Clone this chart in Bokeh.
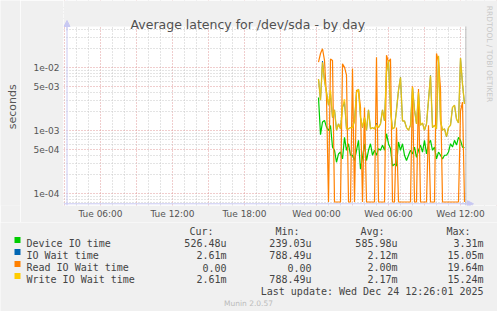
import numpy as np
import pandas as pd
from bokeh.plotting import figure
from bokeh.layouts import column, row
from bokeh.models import (Range1d, FixedTicker, CustomJSTickFormatter, Span, Label,
                          BoxAnnotation, Arrow, NormalHead)
from bokeh.core.properties import value
from bokeh.embed import file_html
from bokeh.resources import INLINE

# ---------------- data (10-minute samples, Wed 24 Dec 2025) ----------------
times = pd.date_range("2025-12-24 00:10", periods=74, freq="10min")

device_io = [0.0033, 0.00085, 0.00135, 0.00143, 0.00112, 0.00099, 0.00119, 0.00054,
             0.00048, 0.00031, 0.00042, 0.00045, 0.00035, 0.00077, 0.00048, 0.00061,
             0.00040, 0.00040, 0.00033, 0.00048, 0.00069, 0.00024, 0.00037, 0.00061,
             0.00033, 0.00048, 0.00061, 0.00040, 0.00048, 0.00040, 0.00051, 0.00048,
             0.00058, 0.00048, 0.00088, 0.00061, 0.00051, 0.00027, 0.00029, 0.00027,
             0.00065, 0.00048, 0.00061, 0.00040, 0.00033, 0.00040, 0.00048, 0.00042,
             0.00054, 0.00037, 0.00048, 0.00058, 0.00045, 0.00069, 0.00042, 0.00061,
             0.00069, 0.00048, 0.00054, 0.00035, 0.00045, 0.00040, 0.00035, 0.00040,
             0.00040, 0.00045, 0.00061, 0.00054, 0.00069, 0.00058, 0.00077, 0.00069,
             0.00054, 0.000526]

io_wait = [0.0065, 0.0030, 0.0125, 0.0061, 0.0040, 0.0025, 0.0038, 0.0016,
           0.0021, 0.0010, 0.00126, 0.00105, 0.0023, 0.0028, 0.00105, 0.00105,
           0.0011, 0.0011, 0.0014, 0.0040, 0.0045, 0.0016, 0.0011, 0.0016,
           0.0010, 0.0021, 0.00105, 0.0011, 0.00105, 0.0013, 0.0011, 0.00126,
           0.0021, 0.0014, 0.0084, 0.0128, 0.0021, 0.00105, 0.0011, 0.0021,
           0.0043, 0.0069, 0.0014, 0.0014, 0.0011, 0.0010, 0.0012, 0.0048,
           0.0021, 0.00126, 0.0040, 0.0012, 0.0013, 0.0010, 0.00126, 0.0030,
           0.0074, 0.0011, 0.0012, 0.00105, 0.01505, 0.0014, 0.0010, 0.00105,
           0.00079, 0.0011, 0.0012, 0.0023, 0.0025, 0.0015, 0.0013, 0.0140,
           0.0054, 0.00261]

read_io = [0.0120, 0.0165, 0.01964, 0.0128, 0.0033, 0.0, 0.0135, 0.0128,
           0.0, 0.0, 0.0, 0.0, 0.0113, 0.0100, 0.0075, 0.0,
           0.0, 0.0095, 0.0, 0.0043, 0.0043, 0.0023, 0.0, 0.0023,
           0.0, 0.0, 0.0, 0.0, 0.0, 0.0144, 0.0, 0.0,
           0.0, 0.0, 0.0155, 0.0120, 0.0136, 0.0, 0.0, 0.0011,
           0.0, 0.0, 0.0, 0.0, 0.0, 0.0, 0.0, 0.0050,
           0.0, 0.0, 0.0045, 0.0, 0.0, 0.0, 0.0, 0.0012,
           0.0, 0.0, 0.0, 0.0165, 0.0120, 0.0046, 0.0, 0.0,
           0.0, 0.0, 0.0, 0.0, 0.0, 0.0, 0.0, 0.0020,
           0.0028, 0.0]

write_io = [0.0065, 0.0030, 0.0120, 0.0061, 0.0040, 0.0025, 0.0043, 0.0016,
            0.0021, 0.0010, 0.00126, 0.00105, 0.0023, 0.0031, 0.00105, 0.00105,
            0.0011, 0.0011, 0.0014, 0.0040, 0.0045, 0.0016, 0.0011, 0.0016,
            0.0010, 0.0021, 0.00105, 0.0011, 0.00105, 0.0012, 0.0011, 0.00126,
            0.0021, 0.0014, 0.0084, 0.0128, 0.0021, 0.00105, 0.0011, 0.0021,
            0.0043, 0.0069, 0.0014, 0.0014, 0.0011, 0.0010, 0.0012, 0.0048,
            0.0021, 0.00126, 0.0040, 0.0012, 0.0013, 0.0010, 0.00126, 0.0030,
            0.0074, 0.0011, 0.0012, 0.00105, 0.01524, 0.0014, 0.0010, 0.00105,
            0.00079, 0.0011, 0.0012, 0.0023, 0.0025, 0.0015, 0.0013, 0.0140,
            0.0054, 0.00261]

series_names = ["Device IO time", "IO Wait time", "Read IO Wait time", "Write IO Wait time"]
series_colors = ["#00CC00", "#0066B3", "#FF8000", "#FFCC00"]
cur_vals = ["526.48u", "2.61m", "0.00", "2.61m"]
min_vals = ["239.03u", "788.49u", "0.00", "788.49u"]
avg_vals = ["585.98u", "2.12m", "2.00m", "2.17m"]
max_vals = ["3.31m", "15.05m", "19.64m", "15.24m"]
col_headers = ["Cur:", "Min:", "Avg:", "Max:"]

ytick_values = [1e-4, 5e-4, 1e-3, 5e-3, 1e-2]
ytick_labels = ["1e-04", "5e-04", "1e-03", "5e-03", "1e-02"]
xtick_times = ["2025-12-23 06:00", "2025-12-23 12:00", "2025-12-23 18:00",
               "2025-12-24 00:00", "2025-12-24 06:00", "2025-12-24 12:00"]
xtick_labels = ["Tue 06:00", "Tue 12:00", "Tue 18:00", "Wed 00:00", "Wed 06:00", "Wed 12:00"]

title_text = "Average latency for /dev/sda - by day"
y_label = "seconds"
last_update = "Last update: Wed Dec 24 12:26:01 2025"
footer = "Munin 2.0.57"
watermark = "RRDTOOL / TOBI OETIKER"

x_start, x_end = "2025-12-23 02:55", "2025-12-24 15:05"
y_start, y_end = 6.38e-5, 0.1145

# ---------------- layout constants (canvas pixels) ----------------
W, H = 497, 311
STRIP_W = 20           # left strip holding the y label
MAIN_H = 222           # main figure height
FL, FR, FT, FB = 63, 497, 0, 205   # frame of the main plot, canvas coords
PL, PR, PT, PB = 66.5, 466, 26, 203.3  # visible rrd plot area

BG = "#F0F0F0"
AXC = "#C8C8F2"

def ms(t):
    return pd.Timestamp(t).value / 1e6

def px_to_time(px):
    return ms(x_start) + (px - FL) / (FR - FL) * (ms(x_end) - ms(x_start))

def py_to_val(py):
    lo, hi = np.log10(y_start), np.log10(y_end)
    return 10 ** (hi - (py - FT) / (FB - FT) * (hi - lo))

def sx(px):
    return px - FL

def sy(py):
    return FB - py

# ---------------- main figure ----------------
p = figure(width=W - STRIP_W, height=MAIN_H, x_axis_type="datetime", y_axis_type="log",
           x_range=Range1d(ms(x_start), ms(x_end)), y_range=Range1d(y_start, y_end),
           output_backend="svg", toolbar_location=None,
           min_border_left=FL - STRIP_W, min_border_right=0,
           min_border_top=0, min_border_bottom=MAIN_H - FB)
p.border_fill_color = BG
p.background_fill_color = "white"
p.outline_line_color = None

minor_y = [m * 10.0 ** k for k in range(-5, 0) for m in (2, 3, 4, 6, 7, 8, 9)]
yticker = FixedTicker(ticks=ytick_values, minor_ticks=minor_y)
p.yaxis.ticker = yticker
p.ygrid.ticker = yticker
p.yaxis.formatter = CustomJSTickFormatter(args=dict(vals=ytick_values, labels=ytick_labels), code="""
for (let k = 0; k < vals.length; k++) { if (Math.abs(vals[k] - tick) < vals[k] * 1e-6) return labels[k]; }
return "";
""")

major_x = [ms(t) for t in pd.date_range("2025-12-23 03:00", "2025-12-24 15:00", freq="3h")]
minor_x = [ms(t) for t in pd.date_range("2025-12-23 03:00", "2025-12-24 15:00", freq="1h")]
minor_x = [t for t in minor_x if t not in major_x]
xticker = FixedTicker(ticks=major_x, minor_ticks=minor_x)
p.xaxis.ticker = xticker
p.xgrid.ticker = xticker
p.xaxis.formatter = CustomJSTickFormatter(args=dict(vals=[ms(t) for t in xtick_times], labels=xtick_labels), code="""
for (let k = 0; k < vals.length; k++) { if (Math.abs(vals[k] - tick) < 1000) return labels[k]; }
return "";
""")

for ax in (p.xaxis, p.yaxis):
    ax.axis_line_color = None
    ax.major_tick_line_color = None
    ax.minor_tick_line_color = None
    ax.major_tick_out = 0
    ax.major_tick_in = 0
    ax.minor_tick_out = 0
    ax.minor_tick_in = 0
    ax.major_label_text_font = "DejaVu Sans"
    ax.major_label_text_font_size = "9px"
    ax.major_label_text_color = "#555555"
p.xaxis.major_label_standoff = 3
p.yaxis.major_label_standoff = 4

for g in (p.xgrid, p.ygrid):
    g.grid_line_color = "#E09A9A"
    g.grid_line_dash = "1 2"
    g.grid_line_width = 1
    g.minor_grid_line_color = "#C8C8C8"
    g.minor_grid_line_dash = "1 2"
    g.minor_grid_line_width = 1

# series
t_ms = np.array([ms(t) for t in times])
floor = py_to_val(201.5)
p.line(t_ms, device_io, line_color=series_colors[0], line_width=1.2)
p.line(t_ms, io_wait, line_color=series_colors[1], line_width=1.0)
p.line(t_ms, np.maximum(np.array(read_io), floor), line_color=series_colors[2], line_width=1.2)
p.line(t_ms, write_io, line_color=series_colors[3], line_width=1.4, line_alpha=0.85)

# axis lines / right edge (drawn before the grey bands so the bands trim them)
p.add_layout(Span(location=px_to_time(PL), dimension="height", line_color=AXC, line_width=1))
p.add_layout(Span(location=px_to_time(PR - 0.5), dimension="height", line_color="#A0A0A0", line_width=1))
p.add_layout(Span(location=py_to_val(PB), dimension="width", line_color=AXC, line_width=1))

# grey bands outside the rrd plot area
p.add_layout(BoxAnnotation(bottom=py_to_val(PT), fill_color=BG, fill_alpha=1.0, line_color=None))
p.add_layout(BoxAnnotation(left=px_to_time(PR), fill_color=BG, fill_alpha=1.0, line_color=None))

# axis arrows
p.add_layout(Arrow(end=NormalHead(size=6, line_color=AXC, fill_color=AXC),
                   x_start=sx(PL), y_start=sy(30), x_end=sx(PL), y_end=sy(20),
                   start_units="screen", end_units="screen", line_color=AXC))
p.add_layout(Arrow(end=NormalHead(size=6, line_color=AXC, fill_color=AXC),
                   x_start=sx(460), y_start=sy(PB), x_end=sx(473), y_end=sy(PB),
                   start_units="screen", end_units="screen", line_color=AXC))

p.add_layout(Label(x=sx(130), y=sy(24), x_units="screen", y_units="screen", text=title_text,
                   text_font="DejaVu Sans", text_font_size="12.5px", text_color="#505050",
                   text_align="left", text_baseline="alphabetic"))
p.add_layout(Label(x=sx(488.5), y=sy(53.5), x_units="screen", y_units="screen", text=watermark,
                   text_font="DejaVu Sans", text_font_size="7.5px", text_color="#C8C8C8",
                   text_align="center", text_baseline="middle", angle=-np.pi / 2))

# ---------------- left strip with the y label ----------------
s = figure(width=STRIP_W, height=MAIN_H, x_range=Range1d(0, STRIP_W), y_range=Range1d(0, MAIN_H),
           output_backend="svg", toolbar_location=None, x_axis_location=None, y_axis_location=None,
           min_border_left=0, min_border_right=0, min_border_top=0, min_border_bottom=0)
s.border_fill_color = BG
s.background_fill_color = BG
s.outline_line_color = None
s.grid.visible = False
s.text(x=[11.5], y=[MAIN_H - 115], text=[y_label], angle=np.pi / 2,
       text_font=value("DejaVu Sans"), text_font_size=value("11px"), text_color="#555555",
       text_align="center", text_baseline="middle")

# ---------------- legend figure ----------------
LH = H - MAIN_H
q = figure(width=W, height=LH, x_range=Range1d(0, W), y_range=Range1d(0, LH),
           output_backend="svg", toolbar_location=None, x_axis_location=None, y_axis_location=None,
           min_border_left=0, min_border_right=0, min_border_top=0, min_border_bottom=0)
q.border_fill_color = BG
q.background_fill_color = BG
q.outline_line_color = None
q.grid.visible = False

def qy(py):
    return H - py

mono = dict(text_font=value("DejaVu Sans Mono"), text_font_size=value("10px"),
            text_color="#444444", text_baseline="alphabetic")

header_right = [213, 299, 384, 470]
value_right = [226, 311, 397, 483]
q.text(x=header_right, y=[qy(231)] * 4, text=col_headers, text_align="right", **mono)

bases = [243 + 12 * r for r in range(len(series_names))]
q.quad(left=[14] * 4, right=[20] * 4, top=[qy(b - 6.5) for b in bases],
       bottom=[qy(b - 0.5) for b in bases], fill_color=series_colors, line_color=None)
q.text(x=[26] * 4, y=[qy(b) for b in bases], text=series_names, text_align="left", **mono)
for vals, xr in zip((cur_vals, min_vals, avg_vals, max_vals), value_right):
    q.text(x=[xr] * 4, y=[qy(b) for b in bases], text=vals, text_align="right", **mono)
q.text(x=[483], y=[qy(291)], text=[last_update], text_align="right", **mono)
q.text(x=[248], y=[qy(303)], text=[footer], text_align="center",
       text_font=value("DejaVu Sans"), text_font_size=value("7.5px"), text_color="#BBBBBB",
       text_baseline="alphabetic")

layout = column(row(s, p, spacing=0), q, spacing=0)
open("out.html", "w").write(file_html(layout, INLINE))
